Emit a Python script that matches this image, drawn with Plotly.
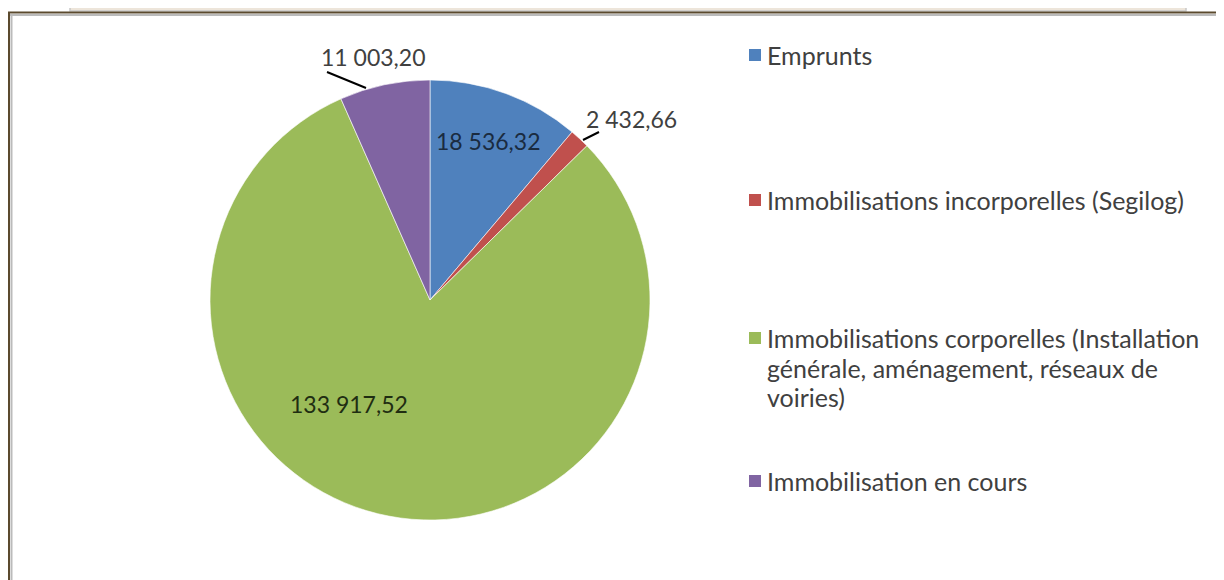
import plotly.graph_objects as go

categories = [
    "Emprunts",
    "Immobilisations incorporelles (Segilog)",
    "Immobilisations corporelles (Installation<br>générale, aménagement, réseaux de<br>voiries)",
    "Immobilisation en cours",
]
values = [18536.32, 2432.66, 133917.52, 11003.20]
colors = ["#4F81BD", "#C0504D", "#9BBB59", "#8064A2"]

# the page body has an 8px margin: figure is offset by 8px
OFF = 8
W, H = 1216, 572
def px(x):
    return (x - OFF) / W
def py(y):
    return 1 - (y - OFF) / H

def fr(v):
    s = f"{v:,.2f}"
    return s.replace(",", " ").replace(".", ",")

fig = go.Figure()
fig.add_trace(go.Pie(
    labels=[c.replace("<br>", " ") for c in categories],
    values=values,
    marker=dict(colors=colors, line=dict(color="white", width=0.6)),
    sort=False,
    direction="clockwise",
    rotation=0,
    textinfo="none",
    hoverinfo="label+value",
    showlegend=False,
    domain=dict(x=[px(208), px(652)], y=[py(520), py(80)]),
))

font_family = "Lato, 'Open Sans', sans-serif"
FS = 23
FS_LEG = 25

# data labels (positions in pixels of the picture)
label_pos = [(489, 141), (631, 119), (349, 404), (373, 57)]
label_col = ["#1a2b40", "#404040", "#1f2d12", "#404040"]
ann = []
for v, (x, y), c in zip(values, label_pos, label_col):
    ann.append(dict(x=px(x), y=py(y), xref="paper", yref="paper", text=fr(v),
                    showarrow=False, xanchor="center", yanchor="middle",
                    font=dict(family=font_family, size=FS, color=c)))

shapes = []
# leader lines
for (x0, y0, x1, y1) in [(327, 72, 366, 88), (583, 140, 599, 132)]:
    shapes.append(dict(type="line", xref="paper", yref="paper",
                       x0=px(x0), y0=py(y0), x1=px(x1), y1=py(y1),
                       line=dict(color="black", width=2)))

# manual legend
leg_y = [55, 200, 338, 481]
line_h = 29.5
for cat, col, y in zip(categories, colors, leg_y):
    shapes.append(dict(type="rect", xref="paper", yref="paper",
                       x0=px(749), x1=px(761), y0=py(y + 6), y1=py(y - 6),
                       fillcolor=col, line=dict(width=0)))
    for i, line in enumerate(cat.split("<br>")):
        ann.append(dict(x=px(765), y=py(y + i * line_h), xref="paper", yref="paper",
                        text=line, showarrow=False, xanchor="left", yanchor="middle",
                        font=dict(family=font_family, size=FS_LEG, color="#404040")))

# page frame (screenshot decoration)
shapes.append(dict(type="rect", xref="paper", yref="paper",
                   x0=px(70), x1=px(1186), y0=py(11), y1=py(0),
                   fillcolor="#EDE5DA", line=dict(color="#C8C8C8", width=1.5)))
shapes.append(dict(type="line", xref="paper", yref="paper",
                   x0=px(0), x1=px(1240), y0=py(12.5), y1=py(12.5),
                   line=dict(color="#5B4A2E", width=2)))
shapes.append(dict(type="line", xref="paper", yref="paper",
                   x0=px(9), x1=px(9), y0=py(12), y1=py(600),
                   line=dict(color="#5B4A2E", width=2)))
shapes.append(dict(type="line", xref="paper", yref="paper",
                   x0=px(11.5), x1=px(11.5), y0=py(14), y1=py(600),
                   line=dict(color="#BBBBBB", width=2)))
shapes.append(dict(type="line", xref="paper", yref="paper",
                   x0=px(10), x1=px(1240), y0=py(15), y1=py(15),
                   line=dict(color="#BBBBBB", width=2)))

fig.update_layout(
    width=W, height=H,
    margin=dict(l=0, r=0, t=0, b=0),
    paper_bgcolor="white",
    plot_bgcolor="white",
    annotations=ann,
    shapes=shapes,
)

fig.write_html("out.html")
